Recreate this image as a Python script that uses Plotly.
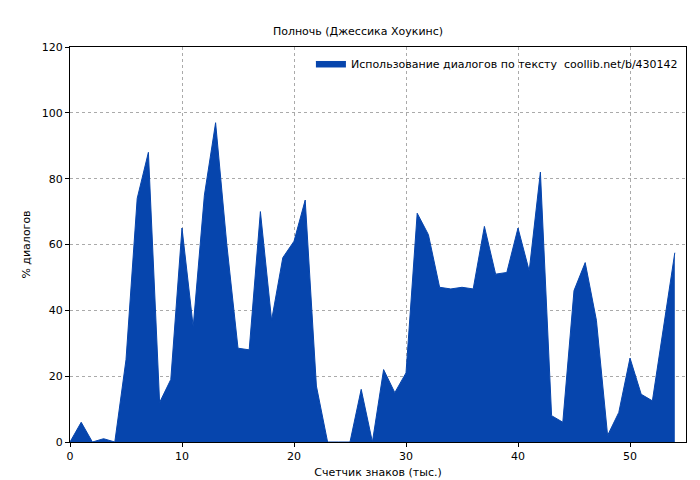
import plotly.graph_objects as go

x_vals = list(range(0, 55))
y_vals = [0, 6, 0, 1, 0, 25, 74, 88, 12, 19,
          65, 35, 75, 97, 60, 28.5, 28, 70, 37, 56,
          61, 73.5, 17, 0, 0, 0, 16, 0, 22, 15,
          21, 69.5, 63, 47, 46.5, 47, 46.5, 65.5, 51, 51.5,
          65, 52, 82, 8, 6, 46, 54.5, 37, 2, 9,
          25.5, 14.5, 12.5, 35, 57.5]
series_name = "Использование диалогов по тексту  coollib.net/b/430142"
title = "Полночь (Джессика Хоукинс)"
x_title = "Счетчик знаков (тыс.)"
y_title = "% диалогов"

fig = go.Figure(go.Scatter(x=x_vals, y=y_vals, mode="lines", fill="tozeroy",
                           line=dict(color="#0645AD", width=1), fillcolor="#0645AD",
                           name=series_name, showlegend=True))
font = dict(family="DejaVu Sans", size=11, color="#000")
fig.update_layout(
    width=700, height=480, paper_bgcolor="#fff", plot_bgcolor="#fff",
    margin=dict(l=62, r=22, t=39, b=46, autoexpand=False),
    title=dict(text=title, x=0.5, xanchor="center", y=0.96, font=font),
    font=font,
    legend=dict(x=0.995, y=0.995, xanchor="right", yanchor="top", bgcolor="rgba(255,255,255,0)",
                font=font, itemwidth=30),
)
axis = dict(showline=True, linecolor="#000", mirror=True, ticks="outside", ticklen=4,
            tickcolor="#000", showgrid=True, gridcolor="#aaa", griddash="dot", zeroline=False,
            automargin=False, tickfont=font)
fig.update_xaxes(range=[0, 55], dtick=10, title=dict(text=x_title, standoff=6, font=font), **axis)
fig.update_yaxes(range=[0, 120], dtick=20, title=dict(text=y_title, standoff=8, font=font), **axis)
fig.write_html("out.html")
